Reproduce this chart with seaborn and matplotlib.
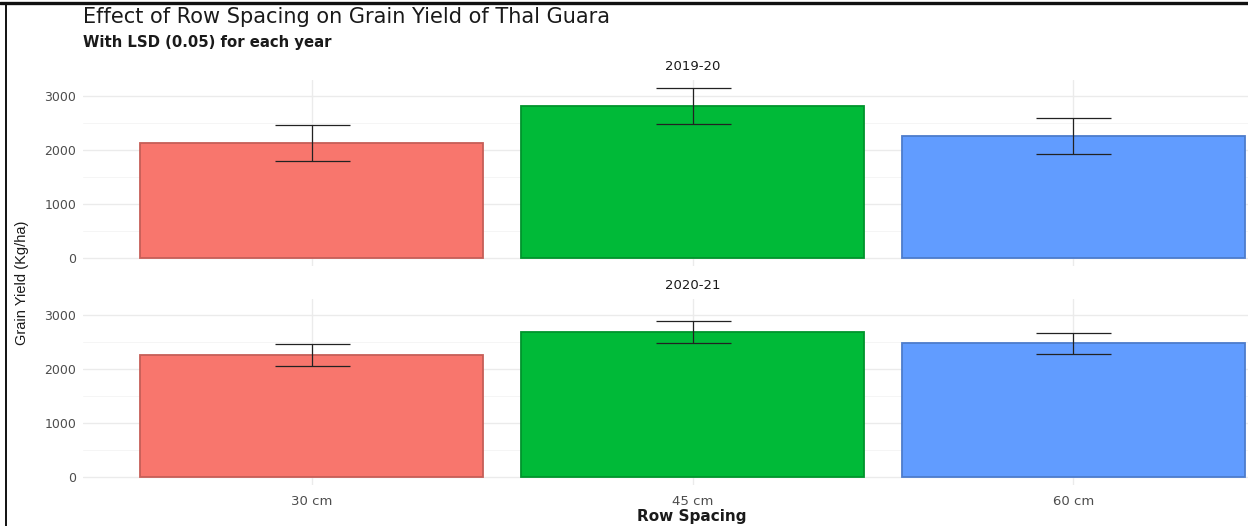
import numpy as np
import pandas as pd
import matplotlib
matplotlib.use("Agg")
import matplotlib.pyplot as plt
from matplotlib.lines import Line2D
from matplotlib.ticker import MultipleLocator
import seaborn as sns

# Grain yield of guar (Kg/ha) by row spacing, with half-LSD (0.05) per year
spacing = ["30 cm", "45 cm", "60 cm"]
years = ["2019-20", "2020-21"]
yield_2019 = [2125, 2815, 2258]
yield_2020 = [2258, 2690, 2475]
lsd_half = [335, 200]
colors = ["#F8766D", "#00BA38", "#619CFF"]
edges = ["#C65E57", "#00942C", "#4D7CCC"]

df = pd.DataFrame({
    "year": np.repeat(years, len(spacing)),
    "spacing": spacing * len(years),
    "yield": yield_2019 + yield_2020,
})

sns.set_theme(style="white")
plt.rcParams["font.family"] = ["DejaVu Sans"]

W, H = 1248, 526
fig = plt.figure(figsize=(W / 100, H / 100), dpi=100)

def fx(px):
    return px / W

def fy(py):
    return 1 - py / H

left, right = 83, 1302
panels = [(79.6, 266.0), (298.5, 485.0)]
ymax_data = max(max(yield_2019) + lsd_half[0], max(yield_2020) + lsd_half[1])
ylim = (-0.05 * ymax_data, 1.05 * ymax_data)

axes = []
for i, (yr, (ptop, pbot)) in enumerate(zip(years, panels)):
    ax = fig.add_axes([fx(left), fy(pbot), fx(right - left), fy(ptop) - fy(pbot)])
    sub = df[df["year"] == yr]
    ax.set_axisbelow(True)
    sns.barplot(data=sub, x="spacing", y="yield", hue="spacing", order=spacing,
                hue_order=spacing, palette=colors, legend=False, width=0.9,
                saturation=1, ax=ax, zorder=2)
    for patch, ec in zip(ax.patches, edges):
        patch.set_edgecolor(ec)
        patch.set_linewidth(1.3)
    pos = np.arange(len(spacing))
    ax.errorbar(pos, sub["yield"].to_numpy(), yerr=lsd_half[i], fmt="none",
                ecolor="#222222", elinewidth=0.9, capsize=27, capthick=0.9,
                zorder=3)
    ax.set_xlim(-0.6, len(spacing) - 0.4)
    ax.set_ylim(*ylim)
    ax.yaxis.set_major_locator(MultipleLocator(1000))
    ax.yaxis.set_minor_locator(MultipleLocator(500))
    ax.grid(which="major", axis="both", color="#EBEBEB", linewidth=1.0, zorder=0)
    ax.grid(which="minor", axis="y", color="#F4F4F4", linewidth=0.6, zorder=0)
    for s in ax.spines.values():
        s.set_visible(False)
    ax.tick_params(axis="both", which="both", length=0, labelsize=9,
                   labelcolor="#4D4D4D", pad=5)
    ax.tick_params(axis="x", labelsize=9.5)
    ax.set_xlabel("")
    ax.set_ylabel("")
    ax.set_title(yr, fontsize=9.5, color="#1A1A1A", pad=7)
    if i == 0:
        ax.tick_params(axis="x", labelbottom=False)
    axes.append(ax)

axes[1].tick_params(axis="x", pad=7)

fig.text(fx(83), fy(17), "Effect of Row Spacing on Grain Yield of Thal Guara",
         fontsize=15, color="#1A1A1A", ha="left", va="center")
fig.text(fx(83), fy(42), "With LSD (0.05) for each year",
         fontsize=10.7, color="#1A1A1A", fontweight="bold", ha="left", va="center")
fig.text(fx(692), fy(516), "Row Spacing", fontsize=11, fontweight="bold",
         color="#1A1A1A", ha="center", va="center")
fig.text(fx(22), fy(283), "Grain Yield (Kg/ha)", fontsize=10.5,
         family="Liberation Sans", color="#1A1A1A",
         rotation=90, ha="center", va="center")

# frame lines along the top and left edges
fig.add_artist(Line2D([0, 1], [fy(2.5), fy(2.5)], color="#111111", linewidth=2.4,
                      transform=fig.transFigure))
fig.add_artist(Line2D([fx(5.5), fx(5.5)], [0, fy(2.5)], color="#111111",
                      linewidth=1.4, transform=fig.transFigure))

fig.savefig("out.png", dpi=100)
